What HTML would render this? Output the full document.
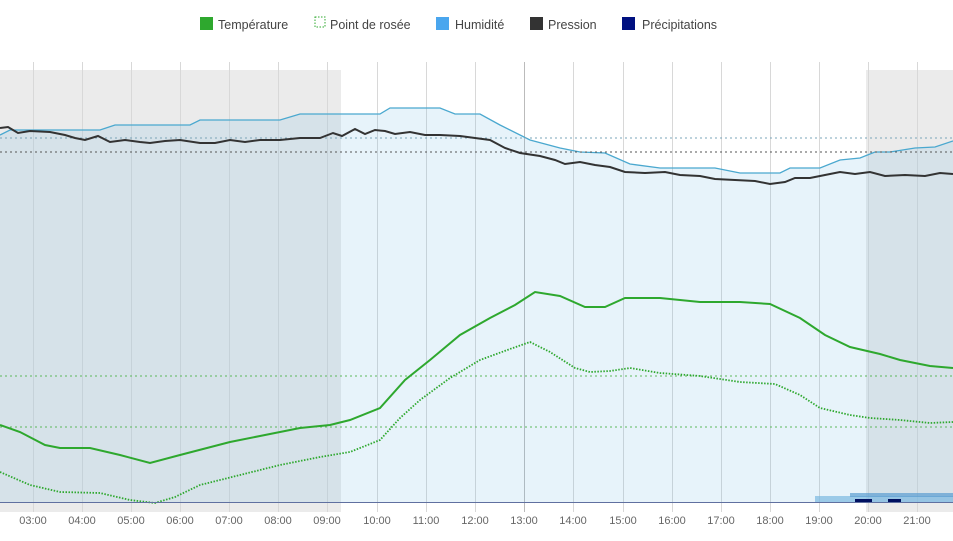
<!DOCTYPE html>
<html><head><meta charset="utf-8"><style>
body{margin:0;background:#fff;width:953px;height:536px;overflow:hidden;font-family:"Liberation Sans",sans-serif}
</style></head><body>
<svg width="953" height="536" xmlns="http://www.w3.org/2000/svg" font-family="Liberation Sans, sans-serif">
<!-- legend -->
<g font-size="12.5" fill="#444">
<rect x="200" y="17" width="13" height="13" fill="#2ea82e"/><text x="218" y="29">Température</text>
<rect x="315" y="17" width="10" height="10" fill="none" stroke="#2ea82e" stroke-dasharray="1.5,1.5"/><text x="330" y="29">Point de rosée</text>
<rect x="436" y="17" width="13" height="13" fill="#4aa6ee"/><text x="455" y="29">Humidité</text>
<rect x="530" y="17" width="13" height="13" fill="#333"/><text x="548" y="29">Pression</text>
<rect x="622" y="17" width="13" height="13" fill="#001080"/><text x="642" y="29">Précipitations</text>
</g>
<!-- night areas -->
<rect x="0" y="70" width="341" height="442" fill="#ebebeb"/>
<rect x="866" y="70" width="87" height="442" fill="#ebebeb"/>
<!-- grid -->
<g stroke="#d8d8d8" stroke-width="1">
<line x1="33.5" y1="62" x2="33.5" y2="512"/><line x1="82.5" y1="62" x2="82.5" y2="512"/><line x1="131.5" y1="62" x2="131.5" y2="512"/><line x1="180.5" y1="62" x2="180.5" y2="512"/><line x1="229.5" y1="62" x2="229.5" y2="512"/><line x1="278.5" y1="62" x2="278.5" y2="512"/><line x1="327.5" y1="62" x2="327.5" y2="512"/><line x1="377.5" y1="62" x2="377.5" y2="512"/><line x1="426.5" y1="62" x2="426.5" y2="512"/><line x1="475.5" y1="62" x2="475.5" y2="512"/><line x1="524.5" y1="62" x2="524.5" y2="512" stroke="#bbb"/><line x1="573.5" y1="62" x2="573.5" y2="512"/><line x1="623.5" y1="62" x2="623.5" y2="512"/><line x1="672.5" y1="62" x2="672.5" y2="512"/><line x1="721.5" y1="62" x2="721.5" y2="512"/><line x1="770.5" y1="62" x2="770.5" y2="512"/><line x1="819.5" y1="62" x2="819.5" y2="512"/><line x1="868.5" y1="62" x2="868.5" y2="512"/><line x1="917.5" y1="62" x2="917.5" y2="512"/>
</g>
<!-- humidity area -->
<path d="M0,135 L10,130 L100,130 L115,125 L190,125 L200,120 L280,120 L300,114 L380,114 L390,108 L440,108 L455,114 L480,114 L500,125 L530,140 L560,148 L580,152 L605,153 L630,164 L660,168 L715,168 L740,173 L780,173 L790,168 L820,168 L840,160 L860,158 L875,152 L890,152 L915,148 L935,147 L953,141 L953,502 L0,502 Z" fill="rgba(110,185,225,0.17)"/>
<path d="M0,135 L10,130 L100,130 L115,125 L190,125 L200,120 L280,120 L300,114 L380,114 L390,108 L440,108 L455,114 L480,114 L500,125 L530,140 L560,148 L580,152 L605,153 L630,164 L660,168 L715,168 L740,173 L780,173 L790,168 L820,168 L840,160 L860,158 L875,152 L890,152 L915,148 L935,147 L953,141" fill="none" stroke="#4aa8cf" stroke-width="1.3"/>
<!-- dotted refs -->
<line x1="0" y1="138" x2="953" y2="138" stroke="#7aa4b8" stroke-dasharray="2,3"/>
<line x1="0" y1="152" x2="953" y2="152" stroke="#555" stroke-dasharray="2,3"/>
<line x1="0" y1="376" x2="953" y2="376" stroke="#5cb85c" stroke-dasharray="2,3"/>
<line x1="0" y1="427" x2="953" y2="427" stroke="#5cb85c" stroke-dasharray="2,3"/>
<!-- pressure -->
<path d="M0,128 L8,127 L18,133 L30,131 L50,132 L65,135 L75,138 L85,140 L98,136 L110,142 L125,140 L140,142 L150,143 L165,141 L180,140 L200,143 L215,143 L230,140 L245,142 L260,140 L280,140 L300,138 L320,138 L333,133 L342,136 L355,129 L365,134 L375,130 L385,131 L395,134 L410,132 L425,135 L440,135 L460,136 L475,138 L490,140 L505,148 L520,153 L540,156 L555,160 L565,164 L580,162 L595,165 L610,167 L625,172 L645,173 L665,172 L680,175 L700,176 L715,179 L735,180 L755,181 L770,184 L785,182 L795,178 L810,178 L825,175 L840,172 L855,174 L870,172 L885,176 L905,175 L925,176 L940,173 L953,174" fill="none" stroke="#333" stroke-width="2"/>
<!-- dew point -->
<path d="M0,472 L30,485 L60,492 L100,493 L130,500 L155,503 L175,497 L200,485 L240,475 L280,465 L320,457 L350,452 L380,440 L400,418 L420,400 L450,378 L480,360 L510,349 L530,342 L550,352 L575,368 L590,372 L610,371 L630,368 L660,373 L700,376 L740,382 L775,384 L800,395 L820,408 L850,415 L870,418 L900,420 L930,423 L953,422" fill="none" stroke="#2ea82e" stroke-width="1.8" stroke-dasharray="1.5,1.5"/>
<!-- temperature -->
<path d="M0,425 L20,432 L45,445 L60,448 L90,448 L120,455 L150,463 L180,455 L230,442 L260,436 L300,428 L330,425 L350,420 L380,408 L405,380 L430,360 L460,335 L490,318 L515,305 L535,292 L560,296 L585,307 L605,307 L625,298 L660,298 L700,302 L740,302 L770,304 L800,318 L825,335 L850,347 L880,354 L900,360 L930,366 L953,368" fill="none" stroke="#2ea82e" stroke-width="2"/>
<!-- precipitation -->
<rect x="815" y="496" width="138" height="6" fill="#7ab8e0" opacity="0.7"/>
<rect x="850" y="493" width="103" height="4" fill="#5a9cd0" opacity="0.7"/>
<rect x="855" y="499" width="17" height="3" fill="#001060"/>
<rect x="888" y="499" width="13" height="3" fill="#001060"/>
<line x1="0" y1="502.5" x2="953" y2="502.5" stroke="#6070a0" stroke-width="1"/>
<!-- x labels -->
<g font-size="11" fill="#666" text-anchor="middle">
<text x="33" y="524">03:00</text><text x="82" y="524">04:00</text><text x="131" y="524">05:00</text><text x="180" y="524">06:00</text><text x="229" y="524">07:00</text><text x="278" y="524">08:00</text><text x="327" y="524">09:00</text><text x="377" y="524">10:00</text><text x="426" y="524">11:00</text><text x="475" y="524">12:00</text><text x="524" y="524">13:00</text><text x="573" y="524">14:00</text><text x="623" y="524">15:00</text><text x="672" y="524">16:00</text><text x="721" y="524">17:00</text><text x="770" y="524">18:00</text><text x="819" y="524">19:00</text><text x="868" y="524">20:00</text><text x="917" y="524">21:00</text>
</g>
</svg>
</body></html>
